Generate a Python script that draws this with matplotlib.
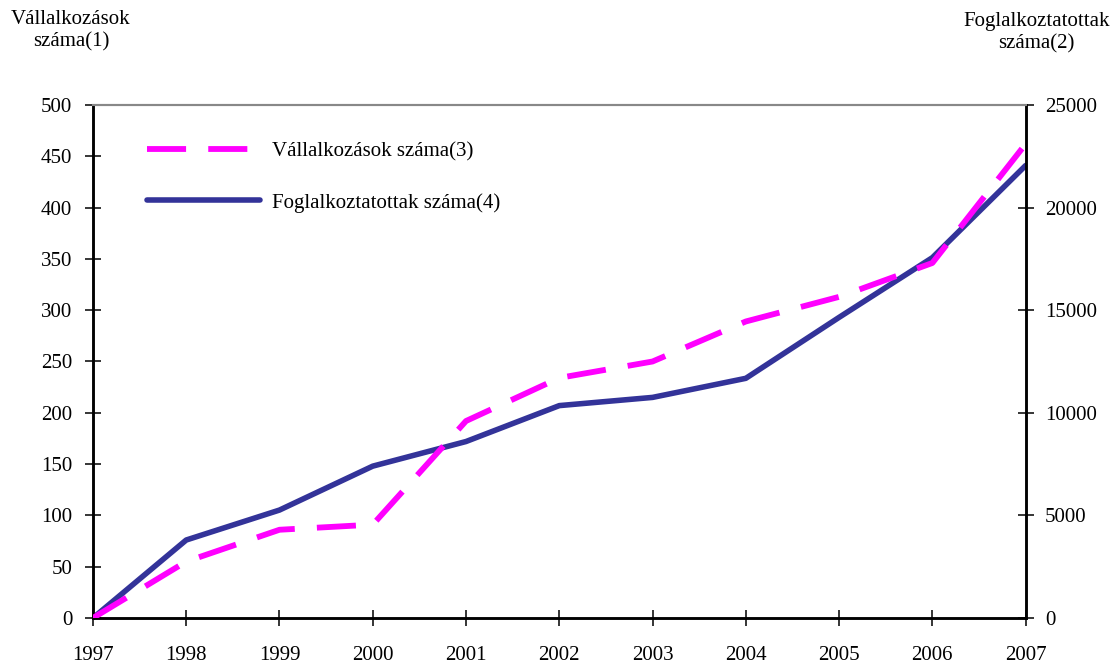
import matplotlib.pyplot as plt

plt.rcParams['font.family'] = ['Liberation Serif', 'DejaVu Serif']

# Adatok
evek = [1997, 1998, 1999, 2000, 2001, 2002, 2003, 2004, 2005, 2006, 2007]
vallalkozasok = [0, 55, 86, 91, 192, 234, 250, 289, 313, 346, 462]
foglalkoztatottak = [0, 3800, 5260, 7400, 8600, 10350, 10750, 11680, 14650, 17560, 22050]

fig = plt.figure(figsize=(11.16, 6.65), dpi=100)
ax = fig.add_axes([0.0833, 0.0707, 0.8357, 0.7714])
ax2 = ax.twinx()

l1, = ax.plot(evek, vallalkozasok, color='#FF00FF', lw=4.2, dashes=(6.7, 3.8),
              dash_capstyle='butt', label='Vállalkozások száma(3)', zorder=3)
l2, = ax2.plot(evek, foglalkoztatottak, color='#333399', lw=4.0,
               solid_capstyle='round', label='Foglalkoztatottak száma(4)')
ax.set_zorder(ax2.get_zorder() + 1)
ax.patch.set_visible(False)

ax.set_xlim(1997, 2007)
ax.set_ylim(0, 500)
ax2.set_ylim(0, 25000)
ax.set_xticks(evek)
ax.set_yticks(range(0, 501, 50))
ax2.set_yticks(range(0, 25001, 5000))

ax.tick_params(axis='x', direction='inout', length=12, width=1.1, labelsize=15, pad=14)
ax.tick_params(axis='y', direction='inout', length=12, width=1.1, labelsize=15, pad=9)
ax2.tick_params(axis='y', direction='inout', length=12, width=1.1, labelsize=15, pad=8)

for a in (ax, ax2):
    a.spines['top'].set_color('#888888')
    a.spines['top'].set_linewidth(1.5)
    for s in ('left', 'bottom', 'right'):
        a.spines[s].set_linewidth(1.8)

leg = ax.legend(handles=[l1, l2], loc='upper left', bbox_to_anchor=(0.058, 0.928),
                borderaxespad=0, borderpad=0, frameon=False, fontsize=15,
                handlelength=5.4, handletextpad=0.58, labelspacing=1.5)

fig.text(0.0636, 0.985, 'Vállalkozások\nszáma(1)', ha='center', va='top',
         fontsize=15, linespacing=1.2)
fig.text(0.929, 0.982, 'Foglalkoztatottak\nszáma(2)', ha='center', va='top',
         fontsize=15, linespacing=1.2)

fig.savefig('out.png', dpi=100)
